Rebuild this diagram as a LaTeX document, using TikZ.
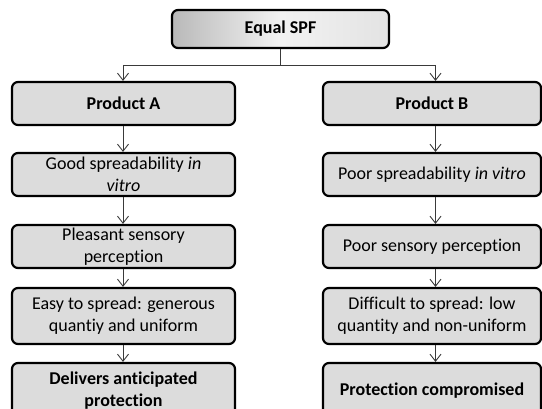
\documentclass[tikz,border=0pt]{standalone}
\usepackage{fontspec}
\setmainfont{Carlito}[Ligatures=NoCommon]
\usetikzlibrary{arrows.meta}
\definecolor{boxgray}{HTML}{DCDCDC}
\definecolor{linegray}{HTML}{3A3A3A}
\begin{document}
\begin{tikzpicture}[x=1pt,y=-1pt,
  txt/.style={font=\fontsize{18}{22}\selectfont},
  bold/.style={font=\fontsize{18}{22}\selectfont\bfseries},
  box/.style={draw=black, line width=2.2pt, rounded corners=6pt, fill=boxgray,
    align=center, inner sep=0pt, txt},
  leftbox/.style={box, minimum width=223pt},
  rightbox/.style={box, minimum width=218pt},
  short/.style={minimum height=43pt},
  tall/.style={minimum height=56pt},
  link/.style={draw=linegray, line width=0.9pt},
  flow/.style={link, -{Straight Barb[length=7pt,width=11pt,line width=0.9pt]}}
]
\useasboundingbox (0,0) rectangle (542,409);

% top box with horizontal grey gradient
\node[box, bold, minimum width=217pt, minimum height=38pt, fill=none,
      left color=gray!55, right color=gray!22, middle color=gray!10]
  (spf) at (280.5,29) {Equal SPF};

% product A column
\node[leftbox, short, bold] (a1) at (123.5,103.5) {Product A};
\node[leftbox, short] (a2) at (123.5,174.5) {Good spreadability \emph{in}\\\emph{vitro}};
\node[leftbox, short] (a3) at (123.5,246.5) {Pleasant sensory\\perception};
\node[leftbox, tall]  (a4) at (123.5,316) {Easy to spread: generous\\quantiy and uniform};
\node[leftbox, tall, bold] (a5) at (123.5,391) {Delivers anticipated\\protection};

% product B column
\node[rightbox, short, bold] (b1) at (432,103.5) {Product B};
\node[rightbox, short] (b2) at (432,174.5) {Poor spreadability \emph{in vitro}};
\node[rightbox, short] (b3) at (432,246.5) {Poor sensory perception};
\node[rightbox, tall]  (b4) at (432,316) {Difficult to spread: low\\quantity and non-uniform};
\node[rightbox, tall, bold] (b5) at (432,391) {Protection compromised};

% branching connector
\coordinate (lx) at (123,0);
\coordinate (rx) at (435.5,0);
\coordinate (split) at (280.5,65);
\draw[link] (spf.south) -- (split);
\draw[link] (split -| lx) -- (split -| rx);
\draw[flow] (split -| lx) -- (a1.north -| lx);
\draw[flow] (split -| rx) -- (b1.north -| rx);

% vertical chains
\foreach \u/\v in {a1/a2,a2/a3,a3/a4,a4/a5}
  \draw[flow] (\u.south -| lx) -- (\v.north -| lx);
\foreach \u/\v in {b1/b2,b2/b3,b3/b4,b4/b5}
  \draw[flow] (\u.south -| rx) -- (\v.north -| rx);
\end{tikzpicture}
\end{document}
